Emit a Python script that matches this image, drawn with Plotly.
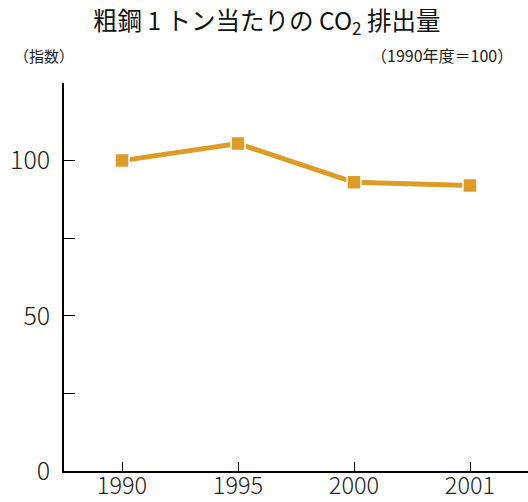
import plotly.graph_objects as go

# CO2 emissions per tonne of crude steel, indexed to FY1990 = 100
years = ["1990", "1995", "2000", "2001"]
index_values = [100, 105.5, 93, 92]

y_tick_vals = [0, 25, 50, 75, 100, 125]
y_tick_text = ["0", "", "50", "", "100", ""]

line_color = "#DD9C25"
jp_font = "Noto Sans CJK JP, Noto Sans, sans-serif"

fig = go.Figure()
fig.add_trace(go.Scatter(
    x=years,
    y=index_values,
    mode="lines+markers",
    line=dict(color=line_color, width=5),
    marker=dict(symbol="square", size=14, color=line_color,
                line=dict(color="white", width=1.5)),
    showlegend=False,
    hoverinfo="x+y",
))

fig.update_layout(
    width=528,
    height=502,
    margin=dict(l=64, r=0, t=83, b=31),
    plot_bgcolor="white",
    paper_bgcolor="white",
    font=dict(family=jp_font, color="#222222"),
    xaxis=dict(
        type="category",
        range=[-0.5, 3.5],
        automargin=False,
        showline=True,
        linecolor="black",
        linewidth=1.5,
        ticks="inside",
        ticklen=9,
        tickwidth=1.2,
        tickcolor="black",
        showgrid=False,
        zeroline=False,
        tickfont=dict(family=jp_font, size=23.5, color="#222222", weight=300),
        ticklabelstandoff=-7,
    ),
    yaxis=dict(
        range=[0, 125],
        automargin=False,
        tickmode="array",
        tickvals=y_tick_vals,
        ticktext=y_tick_text,
        showline=True,
        linecolor="black",
        linewidth=1.5,
        ticks="inside",
        ticklen=11,
        tickwidth=1.2,
        tickcolor="black",
        showgrid=False,
        zeroline=False,
        tickfont=dict(family=jp_font, size=25, color="#222222", weight=300),
        ticklabelstandoff=7,
    ),
    annotations=[
        dict(text="粗鋼 1 トン当たりの CO<sub>2</sub> 排出量",
             xref="paper", yref="paper", x=0.4375, y=1.0,
             yshift=62, xanchor="center", yanchor="middle",
             showarrow=False,
             font=dict(family=jp_font, size=24.5, color="#111111", weight=400)),
        dict(text="（指数）", xref="paper", yref="paper",
             x=-0.112, y=1.0, yshift=28, xanchor="left", yanchor="middle",
             showarrow=False, font=dict(family=jp_font, size=15, color="#222222")),
        dict(text="（1990年度＝100）", xref="paper", yref="paper",
             x=0.972, y=1.0, yshift=28, xanchor="right", yanchor="middle",
             showarrow=False, font=dict(family=jp_font, size=16, color="#222222")),
    ],
)

fig.write_html("out.html")
